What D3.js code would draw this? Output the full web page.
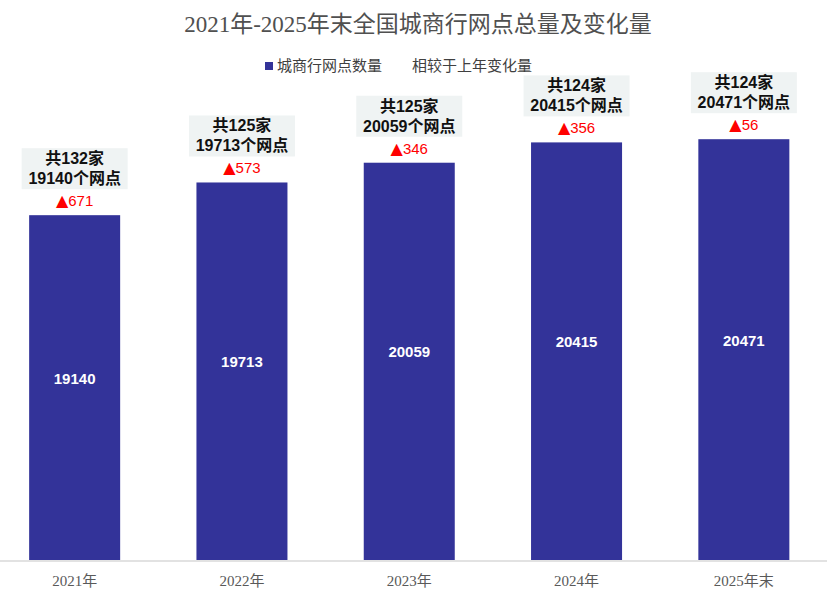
<!DOCTYPE html>
<html>
<head>
<meta charset="utf-8">
<script src="https://cdn.jsdelivr.net/npm/d3@7"></script>
<style>
  body { margin: 0; background: #fff; }
  svg { display: block; }
</style>
</head>
<body>
<div id="chart"></div>
<script>
const years = ['2021年', '2022年', '2023年', '2024年', '2025年末']
const branches = [19140, 19713, 20059, 20415, 20471]
const changes = [671, 573, 346, 356, 56]
const banks = [132, 125, 125, 124, 124]

const width = 827
const height = 596
const baseY = 560
const serif = '"Liberation Serif", "DejaVu Serif", "Noto Sans CJK SC", serif'
const sans = '"Liberation Sans", Arial, "Noto Sans CJK SC", sans-serif'

const svg = d3.select('#chart').append('svg')
  .attr('width', width)
  .attr('height', height)

const x = d3.scaleBand()
  .domain(years)
  .range([-9, 827.5])
  .paddingInner(0.456)
  .paddingOuter(0.228)

const y = d3.scaleLinear()
  .domain([13100, 21000])
  .range([baseY, 109])

// title
svg.append('text')
  .attr('x', 418)
  .attr('y', 32)
  .attr('text-anchor', 'middle')
  .attr('fill', '#505050')
  .attr('font-family', serif)
  .attr('font-size', 23)
  .text('2021年-2025年末全国城商行网点总量及变化量')

// legend
const legend = svg.append('g').attr('font-family', sans).attr('font-size', 15).attr('fill', '#404040')
legend.append('rect').attr('x', 265).attr('y', 62).attr('width', 8).attr('height', 8).attr('fill', '#333399')
legend.append('text').attr('x', 277).attr('y', 71).text('城商行网点数量')
legend.append('text').attr('x', 412).attr('y', 71).text('相较于上年变化量')

// baseline
svg.append('line')
  .attr('x1', 0).attr('x2', width)
  .attr('y1', baseY + 1).attr('y2', baseY + 1)
  .attr('stroke', '#d9d9d9')
  .attr('stroke-width', 1.5)

// bars
svg.selectAll('rect.bar')
  .data(branches)
  .enter()
  .append('rect')
  .attr('class', 'bar')
  .attr('x', (d, i) => x(years[i]))
  .attr('y', d => y(d))
  .attr('width', x.bandwidth())
  .attr('height', d => baseY - y(d))
  .attr('fill', '#333399')

// values inside bars
svg.selectAll('text.val')
  .data(branches)
  .enter()
  .append('text')
  .attr('class', 'val')
  .attr('x', (d, i) => x(years[i]) + x.bandwidth() / 2)
  .attr('y', d => (y(d) + baseY) / 2 - 4)
  .attr('text-anchor', 'middle')
  .attr('fill', '#fff')
  .attr('font-family', sans)
  .attr('font-weight', 'bold')
  .attr('font-size', 15)
  .text(d => d)

// change labels
const chg = svg.selectAll('text.chg')
  .data(changes)
  .enter()
  .append('text')
  .attr('class', 'chg')
  .attr('x', (d, i) => x(years[i]) + x.bandwidth() / 2)
  .attr('y', (d, i) => y(branches[i]) - 9)
  .attr('text-anchor', 'middle')
  .attr('fill', '#ff0000')
  .attr('font-family', sans)
  .attr('font-size', 15)
chg.append('tspan').attr('font-family', '"DejaVu Sans", sans-serif').attr('font-size', 16).text('▲')
chg.append('tspan').text(d => d)

// annotation boxes
const notes = svg.selectAll('g.note')
  .data(branches)
  .enter()
  .append('g')
  .attr('class', 'note')
  .attr('transform', (d, i) => `translate(${x(years[i]) + x.bandwidth() / 2},${y(d) - 36})`)

notes.append('rect')
  .attr('x', -53)
  .attr('y', -31)
  .attr('width', 106)
  .attr('height', 41)
  .attr('fill', '#eff3f3')

notes.append('text')
  .attr('y', -15)
  .attr('text-anchor', 'middle')
  .attr('font-family', sans)
  .attr('font-weight', 'bold')
  .attr('font-size', 16)
  .attr('fill', '#111')
  .text((d, i) => '共' + banks[i] + '家')

notes.append('text')
  .attr('y', 5)
  .attr('text-anchor', 'middle')
  .attr('font-family', sans)
  .attr('font-weight', 'bold')
  .attr('font-size', 16)
  .attr('fill', '#111')
  .text(d => d + '个网点')

// x axis labels
svg.selectAll('text.xlab')
  .data(years)
  .enter()
  .append('text')
  .attr('class', 'xlab')
  .attr('x', d => x(d) + x.bandwidth() / 2)
  .attr('y', 586)
  .attr('text-anchor', 'middle')
  .attr('fill', '#595959')
  .attr('font-family', serif)
  .attr('font-size', 15)
  .text(d => d)
</script>
</body>
</html>
